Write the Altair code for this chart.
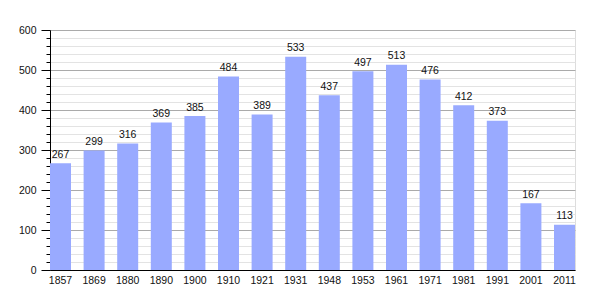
import altair as alt
import pandas as pd

years = ["1857", "1869", "1880", "1890", "1900", "1910", "1921", "1931",
         "1948", "1953", "1961", "1971", "1981", "1991", "2001", "2011"]
population = [267, 299, 316, 369, 385, 484, 389, 533,
              437, 497, 513, 476, 412, 373, 167, 113]
major_ticks = [0, 100, 200, 300, 400, 500, 600]
minor_ticks = [v for v in range(0, 601, 20) if v % 100 != 0]

df = pd.DataFrame({"year": years, "pop": population})

FONT = "Liberation Sans"
FS = 10.5
BAR = "#99AAFF"

x_enc = alt.X("year:N", sort=years,
              scale=alt.Scale(paddingInner=0.375, paddingOuter=0),
              axis=alt.Axis(title=None, labelAngle=0, ticks=False, labelPadding=5,
                            domainColor="black", labelColor="#111111",
                            labelFontSize=FS, labelFont=FONT))

yscale = alt.Scale(domain=[0, 600], nice=False, zero=True)

minor = alt.Chart(df).mark_bar(opacity=0).encode(
    x=x_enc,
    y=alt.Y("pop:Q", scale=yscale,
            axis=alt.Axis(orient="left", title=None, values=minor_ticks, labels=False,
                          tickSize=4, tickColor="black", domain=False,
                          grid=True, gridColor="#e3e3e3", gridWidth=1)),
)

bars = alt.Chart(df).mark_bar(color=BAR).encode(
    x=x_enc,
    y=alt.Y("pop:Q", scale=yscale,
            axis=alt.Axis(orient="left", title=None, values=major_ticks,
                          tickSize=9, tickColor="black", domainColor="black",
                          labelPadding=5, labelFontSize=FS, labelFont=FONT,
                          labelColor="#111111",
                          grid=True, gridColor="#aaaaaa", gridWidth=1)),
)

labels = alt.Chart(df).mark_text(baseline="alphabetic", dy=-5.5, fontSize=FS,
                                 font=FONT, color="#111111").encode(
    x=x_enc,
    y=alt.Y("pop:Q", scale=yscale, axis=None),
    text="pop:Q",
)

chart = alt.layer(minor, bars, labels).resolve_scale(y="independent").properties(
    width=525, height=240,
    autosize=alt.AutoSizeParams(type="none"),
    padding={"left": 50, "top": 30, "right": 30, "bottom": 30},
).configure_view(stroke=None).configure(background="white")

chart.save("out.html", embed_options={"renderer": "svg", "actions": False})
